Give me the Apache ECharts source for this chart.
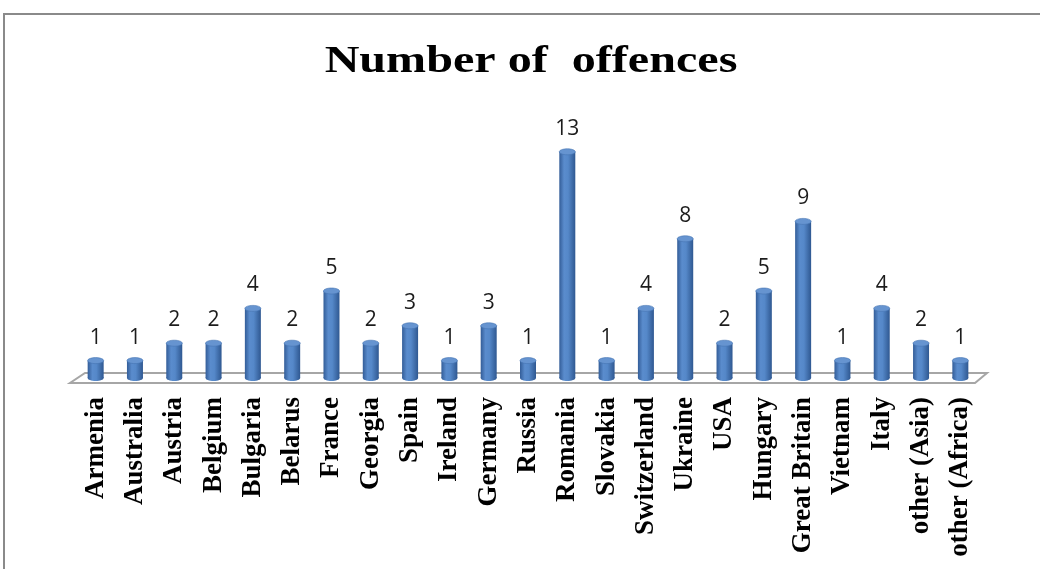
<!DOCTYPE html>
<html>
<head>
<meta charset="utf-8">
<script src="https://cdn.jsdelivr.net/npm/echarts@6/dist/echarts.min.js"></script>
<style>
  html, body { margin: 0; padding: 0; background: #ffffff; }
  #chart { width: 1040px; height: 569px; }
</style>
</head>
<body>
<div id="chart"></div>
<script>
// Offences per country of origin
const countries = [
  'Armenia', 'Australia', 'Austria', 'Belgium', 'Bulgaria', 'Belarus',
  'France', 'Georgia', 'Spain', 'Ireland', 'Germany', 'Russia',
  'Romania', 'Slovakia', 'Switzerland', 'Ukraine', 'USA', 'Hungary',
  'Great Britain', 'Vietnam', 'Italy', 'other (Asia)', 'other (Africa)'
];
const offences = [1, 1, 2, 2, 4, 2, 5, 2, 3, 1, 3, 1, 13, 1, 4, 8, 2, 5, 9, 1, 4, 2, 1];
const chartTitle = 'Number of  offences';

const chart = echarts.init(document.getElementById('chart'), null, { renderer: 'canvas' });

const BAR_W = 16;
const CAP_RY = 3;

// Cylinder: gradient body, bottom ellipse, slightly lighter top cap, value above
function renderCylinder(params, api) {
  const idx = api.value(0);
  const val = api.value(1);
  const top = api.coord([idx, val]);
  const base = api.coord([idx, 0]);
  const cx = top[0];
  const body = new echarts.graphic.LinearGradient(0, 0, 1, 0, [
    { offset: 0, color: '#335d98' },
    { offset: 0.3, color: '#5a8ccd' },
    { offset: 0.55, color: '#5588c9' },
    { offset: 1, color: '#2f5891' }
  ]);
  return {
    type: 'group',
    children: [
      {
        type: 'ellipse',
        shape: { cx: cx, cy: base[1], rx: BAR_W / 2, ry: CAP_RY },
        style: { fill: body }
      },
      {
        type: 'rect',
        shape: { x: cx - BAR_W / 2, y: top[1], width: BAR_W, height: base[1] - top[1] },
        style: { fill: body }
      },
      {
        type: 'ellipse',
        shape: { cx: cx, cy: top[1], rx: BAR_W / 2, ry: CAP_RY },
        style: { fill: '#6694d0', stroke: '#4474b2', lineWidth: 0.6 }
      },
      {
        type: 'text',
        style: {
          text: String(val),
          x: cx,
          y: top[1] - 23,
          align: 'center',
          verticalAlign: 'middle',
          fill: '#1c1c1c',
          font: '21px "Open Sans", sans-serif'
        }
      }
    ]
  };
}

// Perspective floor under the bars, spanning the plot width
function renderFloor(params, api) {
  const cs = params.coordSys;
  const baseY = api.coord([0, 0])[1];
  const L = cs.x, R = cs.x + cs.width;
  const backY = baseY - 5, frontY = baseY + 5;
  return {
    type: 'polygon',
    shape: {
      points: [
        [L + 9, backY], [R + 7, backY], [R - 5, frontY], [L - 6, frontY]
      ]
    },
    style: { fill: '#ffffff', stroke: '#a6a6a6', lineWidth: 2 }
  };
}

chart.setOption({
  animation: false,
  backgroundColor: '#ffffff',
  graphic: [
    {
      type: 'rect',
      shape: { x: 4, y: 14, width: 1100, height: 600 },
      style: { fill: 'none', stroke: '#8a8a8a', lineWidth: 2 },
      silent: true,
      z: -10
    },
    {
      type: 'text',
      x: 531,
      y: 62,
      scaleX: 1.3,
      style: {
        text: chartTitle,
        x: 0,
        y: 0,
        align: 'center',
        verticalAlign: 'middle',
        fill: '#000000',
        font: 'bold 37px "Liberation Serif", serif'
      }
    }
  ],
  grid: { left: 76, right: 60, top: 134.4, bottom: 191 },
  xAxis: {
    type: 'category',
    data: countries,
    axisLine: { show: false },
    axisTick: { show: false },
    axisLabel: {
      interval: 0,
      rotate: 90,
      margin: 19,
      color: '#000000',
      fontFamily: '"Liberation Serif", serif',
      fontWeight: 'bold',
      fontSize: 27
    }
  },
  yAxis: {
    type: 'value',
    min: 0,
    max: 14,
    show: false,
    splitLine: { show: false }
  },
  series: [
    {
      type: 'custom',
      renderItem: renderFloor,
      data: [[0, 0]],
      z: 1,
      silent: true
    },
    {
      type: 'custom',
      renderItem: renderCylinder,
      data: offences.map((v, i) => [i, v]),
      encode: { x: 0, y: 1 },
      z: 2
    }
  ]
});
</script>
</body>
</html>
